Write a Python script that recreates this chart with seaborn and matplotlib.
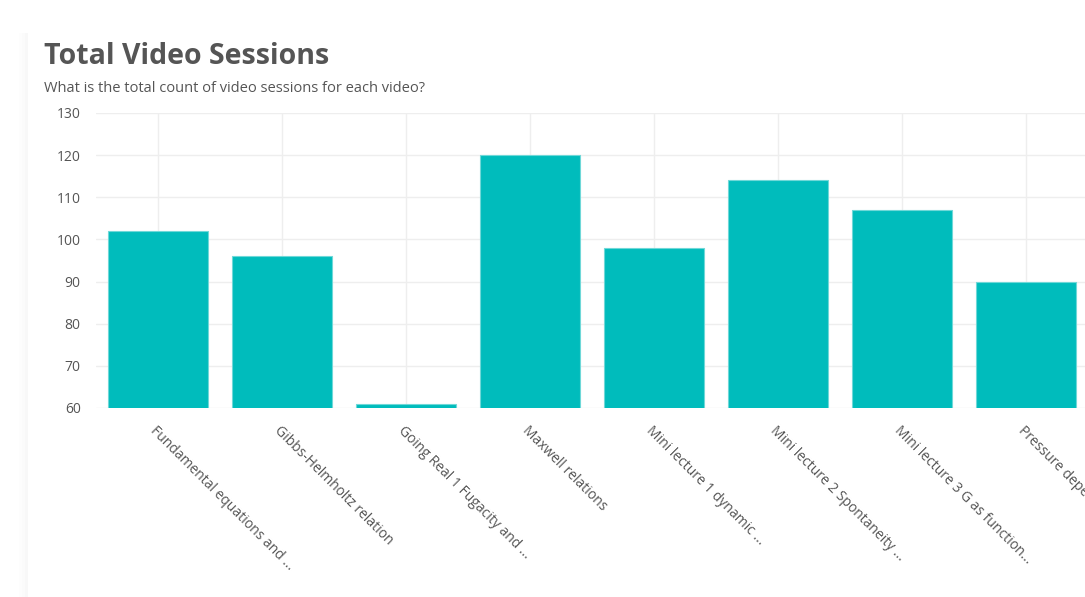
import matplotlib
matplotlib.use("Agg")
import matplotlib.pyplot as plt
import seaborn as sns
import pandas as pd
from matplotlib.patches import FancyBboxPatch

videos = [
    "Fundamental equations and ...",
    "Gibbs-Helmholtz relation",
    "Going Real 1 Fugacity and ...",
    "Maxwell relations",
    "Mini lecture 1 dynamic ...",
    "Mini lecture 2 Spontaneity ...",
    "Mini lecture 3 G as function...",
    "Pressure depe...",
]
sessions = [102, 96, 61, 120, 98, 114, 107, 90]
y_ticks = [60, 70, 80, 90, 100, 110, 120, 130]

title = "Total Video Sessions"
subtitle = "What is the total count of video sessions for each video?"

sns.set_theme(style="white")
plt.rcParams["font.family"] = ["Open Sans", "DejaVu Sans"]

W, H = 1085, 597
fig = plt.figure(figsize=(W / 100, H / 100), dpi=100)
fig.patch.set_facecolor("#ffffff")

# card with faint shadow
for i, a in enumerate([0.006, 0.008, 0.010]):
    pad = (3 - i) * 3
    fig.patches.append(FancyBboxPatch(((28 - pad) / W, 0 - pad / H), (W + 20) / W, (597 - 33 + pad) / H,
                                      boxstyle="square,pad=0", transform=fig.transFigure,
                                      facecolor="#000000", alpha=a, edgecolor="none", zorder=0))
fig.patches.append(FancyBboxPatch((28 / W, -0.05), (W + 20) / W, (597 - 33) / H + 0.05,
                                  boxstyle="square,pad=0", transform=fig.transFigure,
                                  facecolor="#ffffff", edgecolor="none", zorder=1))

ax = fig.add_axes([96 / W, 1 - 408 / H, (1088 - 96) / W, (408 - 113) / H])
ax.set_facecolor("none")
ax.set_zorder(2)

df = pd.DataFrame({"video": videos, "sessions": sessions})
sns.barplot(data=df, x="video", y="sessions", color="#00BCBC", saturation=1,
            width=0.8, edgecolor="#6fd8d8", linewidth=0.8, ax=ax, zorder=3)

ax.set_ylim(60, 130)
ax.set_xlim(-0.5, len(videos) - 0.5)
ax.set_yticks(y_ticks)
ax.set_yticklabels([str(t) for t in y_ticks], fontsize=10, color="#555555")
ax.grid(True, axis="both", color="#eeeeee", linewidth=1, zorder=0)
ax.set_axisbelow(True)
for s in ax.spines.values():
    s.set_visible(False)
ax.tick_params(axis="y", length=0, pad=11)
ax.tick_params(axis="x", length=0, pad=11)
ax.set_xlabel("")
ax.set_ylabel("")
ax.set_xticks(range(len(videos)))
ax.set_xticklabels(videos, rotation=-45, ha="left", va="top",
                   rotation_mode="anchor", fontsize=10, color="#555555")

fig.text(44 / W, 1 - 56 / H, title, fontsize=20.5, fontweight="bold", color="#555555",
         va="center", ha="left")
fig.text(44 / W, 1 - 88 / H, subtitle, fontsize=10.5, color="#555555", va="center", ha="left")

fig.savefig("out.png", dpi=100)
